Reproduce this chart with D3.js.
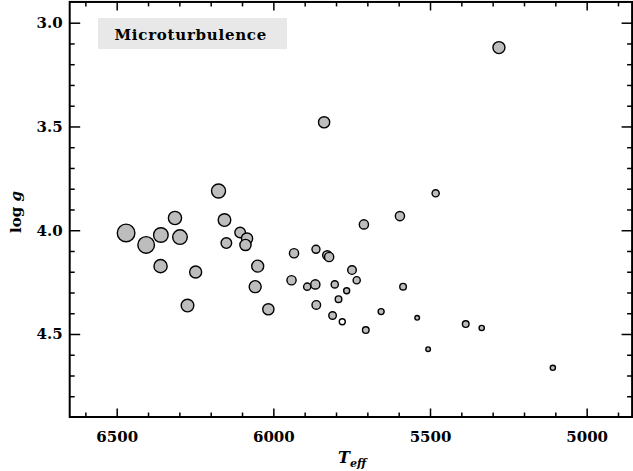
<!DOCTYPE html>
<html><head><meta charset="utf-8">
<script src="https://cdn.jsdelivr.net/npm/d3@7/dist/d3.min.js"></script>
<style>body{margin:0;background:#fff}svg{display:block}</style>
</head><body><svg id="c" width="633" height="471"></svg>
<script>
// Data: effective temperature, log g, microturbulence (km/s, sets symbol size)
const teff = [6470,6406,6359,6314,6298,6360,6248,6274,6175,6156,6150,6106,6084,6089,6050,6058,6016,5934,5942,5864,5892,5866,5863,5828,5822,5804,5792,5811,5766,5780,5749,5734,5711,5596,5705,5656,5586,5541,5506,5482,5386,5335,5108,5838,5280];
const logg = [4.013,4.071,4.023,3.941,4.033,4.173,4.201,4.363,3.811,3.951,4.062,4.011,4.040,4.071,4.173,4.272,4.381,4.111,4.241,4.092,4.272,4.261,4.360,4.121,4.129,4.261,4.332,4.411,4.292,4.441,4.192,4.241,3.972,3.932,4.481,4.392,4.272,4.422,4.573,3.822,4.452,4.471,4.663,3.480,3.120];
const vturb = [1.90,1.80,1.60,1.46,1.60,1.46,1.34,1.40,1.54,1.40,1.20,1.20,1.26,1.26,1.34,1.34,1.26,1.06,1.06,0.94,0.86,1.06,1.00,1.06,1.06,0.86,0.80,0.90,0.74,0.74,1.00,0.86,1.06,1.06,0.80,0.74,0.80,0.60,0.60,0.86,0.80,0.66,0.66,1.26,1.34];
const openIdx = [29];
const xMajor = [6500,6000,5500,5000];
const yMajor = [3.0,3.5,4.0,4.5];
const xMinor = [6600,6400,6300,6200,6100,5900,5800,5700,5600,5400,5300,5200,5100,4900];
const yMinor = [3.1,3.2,3.3,3.4,3.6,3.7,3.8,3.9,4.1,4.2,4.3,4.4,4.6,4.7,4.8];
const panelLabel = "Microturbulence";

const svg = d3.select("#c");
const L=69.7, R=632.1, T=1.95, B=417;
const x = d3.scaleLinear().domain([6650,4855]).range([L,R]);
const y = d3.scaleLinear().domain([2.9,4.9]).range([T,B]);
const rS = d3.scaleLinear().domain([0,2]).range([0,10]);
const font = "DejaVu Serif";

// points
const pts = teff.map((t,i)=>({t, g:logg[i], v:vturb[i], open: openIdx.includes(i)}));
svg.append("g").selectAll("circle").data(pts).join("circle")
  .attr("cx",d=>x(d.t)).attr("cy",d=>y(d.g)).attr("r",d=>rS(d.v)-0.7)
  .attr("fill",d=>d.open?"#ffffff":"#bdbdbd").attr("stroke","#000").attr("stroke-width",1.4);

function styleAxis(g){ g.select(".domain").remove(); g.selectAll("line").attr("stroke","#000").attr("stroke-width",1.5);
  g.selectAll("text").attr("font-family",font).attr("font-weight","bold").attr("font-size",15).attr("fill","#000"); }

// bottom
svg.append("g").attr("transform",`translate(0,${B})`).call(d3.axisBottom(x).tickValues(xMajor).tickSize(-8.5).tickPadding(14).tickFormat(d3.format("d"))).call(styleAxis);
svg.append("g").attr("transform",`translate(0,${B})`).call(d3.axisBottom(x).tickValues(xMinor).tickSize(-4.5).tickFormat("")).call(styleAxis);
// top
svg.append("g").attr("transform",`translate(0,${T})`).call(d3.axisTop(x).tickValues(xMajor).tickSize(-8.5).tickFormat("")).call(styleAxis);
svg.append("g").attr("transform",`translate(0,${T})`).call(d3.axisTop(x).tickValues(xMinor).tickSize(-4.5).tickFormat("")).call(styleAxis);
// left
svg.append("g").attr("transform",`translate(${L},0)`).call(d3.axisLeft(y).tickValues(yMajor).tickSize(-10.5).tickPadding(7).tickFormat(d3.format(".1f"))).call(styleAxis);
svg.append("g").attr("transform",`translate(${L},0)`).call(d3.axisLeft(y).tickValues(yMinor).tickSize(-5).tickFormat("")).call(styleAxis);
// right
svg.append("g").attr("transform",`translate(${R},0)`).call(d3.axisRight(y).tickValues(yMajor).tickSize(-10.5).tickFormat("")).call(styleAxis);
svg.append("g").attr("transform",`translate(${R},0)`).call(d3.axisRight(y).tickValues(yMinor).tickSize(-5).tickFormat("")).call(styleAxis);

// frame
svg.append("rect").attr("x",L).attr("y",T).attr("width",R-L).attr("height",B-T)
  .attr("fill","none").attr("stroke","#000").attr("stroke-width",2);

// panel label
svg.append("rect").attr("x",98).attr("y",18).attr("width",189).attr("height",31).attr("fill","#e8e8e8");
svg.append("text").attr("x",114.5).attr("y",39.5).attr("font-family",font).attr("font-weight","bold")
  .attr("font-size",15).attr("letter-spacing",0.75).text(panelLabel);

// axis titles
const xt = svg.append("text").attr("x",338).attr("y",463).attr("font-family",font).attr("font-weight","bold").attr("font-style","italic").attr("font-size",16);
xt.append("tspan").text("T");
xt.append("tspan").attr("font-size",11).attr("dy",4).text("eff");
const yt = svg.append("text").attr("transform","translate(21,212) rotate(-90)").attr("text-anchor","middle")
  .attr("font-family",font).attr("font-weight","bold").attr("font-size",15);
yt.append("tspan").text("log ");
yt.append("tspan").attr("font-style","italic").text("g");
</script></body></html>
